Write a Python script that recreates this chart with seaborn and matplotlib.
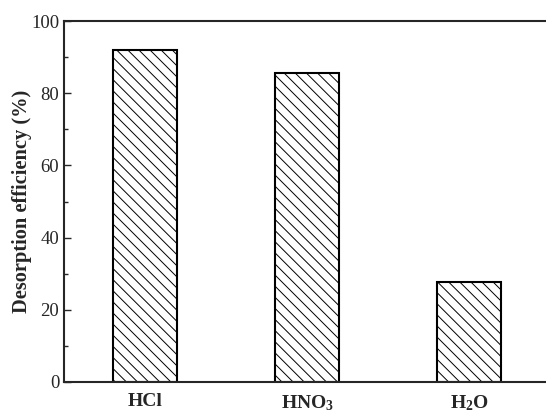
import matplotlib
matplotlib.use("Agg")
import matplotlib.pyplot as plt
from matplotlib.ticker import MultipleLocator
import seaborn as sns
import pandas as pd

# desorption efficiency per eluent
eluents = ["HCl", "HNO$_3$", "H$_2$O"]
efficiency = [91.9, 85.7, 27.7]

sns.set_style("ticks")
plt.rcParams['font.family'] = ['Liberation Serif', 'DejaVu Serif']
plt.rcParams['mathtext.fontset'] = 'custom'
plt.rcParams['mathtext.rm'] = 'Liberation Serif:bold'
plt.rcParams['mathtext.bf'] = 'Liberation Serif:bold'
plt.rcParams['mathtext.default'] = 'bf'
plt.rcParams['hatch.linewidth'] = 0.7

df = pd.DataFrame({'eluent': eluents, 'efficiency': efficiency})

fig = plt.figure(figsize=(5.46, 4.13), dpi=100)
ax = fig.add_axes([64/546, 31/413, 486/546, 361/413])

sns.barplot(data=df, x='eluent', y='efficiency', ax=ax, color='white',
            edgecolor='black', linewidth=1.5, width=0.4)
for p in ax.patches:
    p.set_hatch('\\\\\\')
    p.set_facecolor('white')
    p.set_edgecolor('black')

ax.set_xlim(-0.5, 2.5)
ax.set_ylim(0, 100)
ax.yaxis.set_major_locator(MultipleLocator(20))
ax.yaxis.set_minor_locator(MultipleLocator(10))
ax.tick_params(axis='y', which='both', direction='in', labelsize=13.5)
ax.tick_params(axis='y', which='major', length=5, width=1)
ax.tick_params(axis='y', which='minor', length=3, width=1)
ax.tick_params(axis='x', length=0, labelsize=14, pad=8)
for lab in ax.get_xticklabels():
    lab.set_fontweight('bold')

ax.set_xlabel('')
ax.set_ylabel('Desorption efficiency (%)', fontsize=14.7, fontweight='bold')
ax.yaxis.set_label_coords(-0.066, 0.5)

for side in ['left', 'top', 'bottom', 'right']:
    ax.spines[side].set_linewidth(1.5)
    ax.spines[side].set_visible(True)

fig.savefig('out.png', dpi=100)
